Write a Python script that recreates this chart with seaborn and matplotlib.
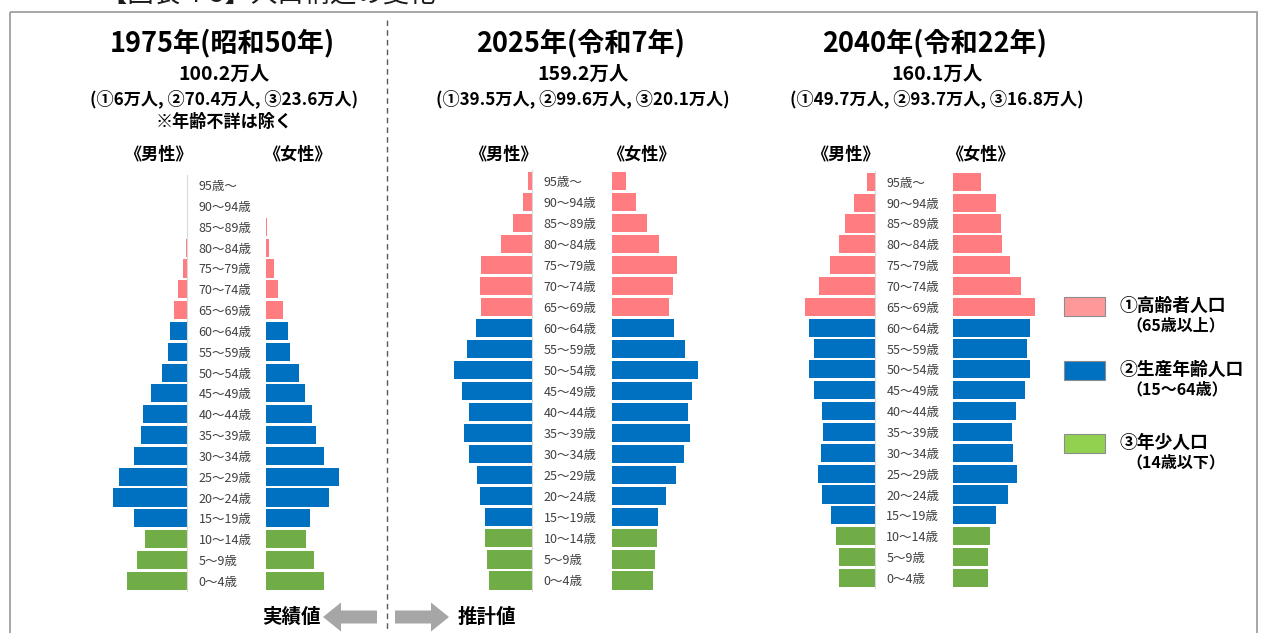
import matplotlib
matplotlib.use("Agg")
import matplotlib.pyplot as plt
import matplotlib.patches as mpatches
import seaborn as sns
import pandas as pd

sns.set_theme(style="white")
plt.rcParams['font.family'] = ['Noto Sans CJK JP', 'DejaVu Sans']

# ---------------- data (千人) ----------------
ages = ["0～4歳", "5～9歳", "10～14歳", "15～19歳", "20～24歳", "25～29歳", "30～34歳",
        "35～39歳", "40～44歳", "45～49歳", "50～54歳", "55～59歳", "60～64歳", "65～69歳",
        "70～74歳", "75～79歳", "80～84歳", "85～89歳", "90～94歳", "95歳～"]

male_1975 = [47.0, 39.2, 32.6, 41.1, 57.8, 52.9, 41.5, 35.9, 34.6, 28.4, 19.8, 14.6, 13.1,
             10.2, 6.9, 3.5, 1.2, 0.5, 0.2, 0.1]
female_1975 = [45.0, 37.2, 31.2, 34.6, 49.4, 57.1, 45.0, 39.3, 36.2, 30.8, 25.6, 19.1, 17.1,
               13.2, 9.3, 6.2, 2.9, 1.0, 0.5, 0.3]
male_2025 = [33.3, 35.4, 37.0, 37.0, 40.5, 43.2, 48.8, 52.7, 49.4, 54.8, 60.5, 50.9, 43.6,
             39.5, 40.5, 40.1, 24.3, 14.7, 7.5, 3.1]
female_2025 = [31.5, 33.3, 35.1, 35.9, 42.1, 49.6, 55.8, 60.7, 58.7, 62.2, 66.9, 56.3, 48.3,
               44.4, 47.5, 50.6, 36.4, 27.4, 18.6, 10.6]
male_2040 = [27.9, 27.9, 30.0, 34.1, 41.3, 44.4, 41.6, 40.5, 40.8, 47.3, 50.9, 47.3, 50.9,
             54.3, 43.4, 35.1, 27.9, 23.0, 16.3, 6.2]
female_2040 = [26.6, 26.6, 28.7, 33.3, 42.4, 49.6, 46.5, 45.5, 48.6, 55.3, 59.4, 56.8, 59.4,
               63.3, 52.7, 44.2, 38.0, 37.0, 33.1, 21.2]

group_names = ["①高齢者人口", "②生産年齢人口", "③年少人口"]
group_sub = ["（65歳以上）", "（15～64歳）", "（14歳以下）"]
bar_colors = {"①高齢者人口": "#FF7C80", "②生産年齢人口": "#0070C0", "③年少人口": "#70AD47"}
legend_colors = ["#FF9999", "#0070C0", "#92D050"]

titles = ["1975年(昭和50年)", "2025年(令和7年)", "2040年(令和22年)"]
totals = ["100.2万人", "159.2万人", "160.1万人"]
breakdowns = ["(①6万人, ②70.4万人, ③23.6万人)",
              "(①39.5万人, ②99.6万人, ③20.1万人)",
              "(①49.7万人, ②93.7万人, ③16.8万人)"]


def group_of(i):
    if i < 3:
        return "③年少人口"
    if i < 13:
        return "②生産年齢人口"
    return "①高齢者人口"


groups = [group_of(i) for i in range(len(ages))]
order_top_down = ages[::-1]

W, H = 1263, 633
DPI = 100
fig = plt.figure(figsize=(W / DPI, H / DPI), dpi=DPI)
fig.patch.set_facecolor("white")

# overlay axes in pixel coordinates for frame / texts
ov = fig.add_axes([0, 0, 1, 1])
ov.set_xlim(0, W)
ov.set_ylim(H, 0)
ov.axis("off")
ov.patch.set_alpha(0)

ov.add_patch(mpatches.Rectangle((10, 12), 1247, 640, fill=False, ec="#A6A6A6", lw=1.4,
                                clip_on=False))
ov.text(268, -5, "【図表 4-5】人口構造の変化", ha="center", va="center", fontsize=19,
        color="#1a1a1a")
ov.plot([387, 387], [20, 633], color="#595959", lw=1, ls=(0, (4, 3)))

# panel geometry (pixels)
panels = [
    dict(m=male_1975, f=female_1975, medge=187.3, fstart=265.7, top=174.8, bot=591.2,
         cx=222, mx=158, fx=297, note=True),
    dict(m=male_2025, f=female_2025, medge=532.3, fstart=612.0, top=170.3, bot=590.9,
         cx=581, mx=503, fx=641, note=False),
    dict(m=male_2040, f=female_2040, medge=875.0, fstart=953.3, top=171.3, bot=588.4,
         cx=935, mx=845, fx=980, note=False),
]

AXW = 100  # px
XMAX = 77.5  # 千人 per AXW px


def to_fig(x0, y0, w, h):
    return [x0 / W, 1 - (y0 + h) / H, w / W, h / H]


for k, p in enumerate(panels):
    h = p["bot"] - p["top"]
    axm = fig.add_axes(to_fig(p["medge"] - AXW, p["top"], AXW, h))
    axf = fig.add_axes(to_fig(p["fstart"], p["top"], AXW, h))
    for ax, vals in ((axm, p["m"]), (axf, p["f"])):
        df = pd.DataFrame({"age": ages, "value": vals, "group": groups})
        sns.barplot(data=df, x="value", y="age", hue="group", hue_order=group_names,
                    palette=bar_colors, order=order_top_down, dodge=False, width=0.87,
                    saturation=1, orient="h", ax=ax, legend=False, linewidth=0)
        ax.set_xlabel("")
        ax.set_ylabel("")
        ax.set_xticks([])
        ax.set_ylim(len(ages) - 0.5, -0.5)
        for s in ax.spines.values():
            s.set_visible(False)
        ax.patch.set_alpha(0)
    axm.set_xlim(XMAX, 0)
    axf.set_xlim(0, XMAX)
    axf.set_yticks([])
    axm.spines["right"].set_visible(True)
    axm.spines["right"].set_color("#D9D9D9")
    axm.spines["right"].set_linewidth(0.8)
    axm.tick_params(axis="y", left=False, right=False, labelleft=False, labelright=True,
                    length=0, pad=8.2, labelsize=9, labelcolor="#404040")

    # headers
    ov.text(p["cx"], 43, titles[k], ha="center", va="center", fontsize=19.5,
            fontweight="bold", color="black")
    ov.text(p["cx"] + 2, 74, totals[k], ha="center", va="center", fontsize=14,
            fontweight="bold", color="black")
    ov.text(p["cx"] + 2, 99, breakdowns[k], ha="center", va="center", fontsize=12.3,
            fontweight="bold", color="black")
    if p["note"]:
        ov.text(p["cx"] + 2, 122, "※年齢不詳は除く", ha="center", va="center", fontsize=12.3,
                fontweight="bold", color="black")
    ov.text(p["mx"], 155, "《男性》", ha="center", va="center", fontsize=12.3,
            fontweight="bold", color="black")
    ov.text(p["fx"], 155, "《女性》", ha="center", va="center", fontsize=12.3,
            fontweight="bold", color="black")

# legend
leg_y = [306, 370, 443]
for i in range(3):
    ov.add_patch(mpatches.Rectangle((1064, leg_y[i] - 9), 41, 19, fc=legend_colors[i],
                                    ec="#8C8C8C", lw=0.8))
    ov.text(1119, leg_y[i], group_names[i], ha="left", va="center", fontsize=12.8,
            fontweight="bold", color="black")
    ov.text(1126, leg_y[i] + 19, group_sub[i], ha="left", va="center", fontsize=11.5,
            fontweight="bold", color="black")

# arrows at bottom
ov.add_patch(mpatches.FancyArrow(377, 617, -54, 0, width=13, head_width=29, head_length=18,
                                 length_includes_head=True, color="#A6A6A6", lw=0))
ov.add_patch(mpatches.FancyArrow(395, 617, 54, 0, width=13, head_width=29, head_length=18,
                                 length_includes_head=True, color="#A6A6A6", lw=0))
ov.text(291, 617, "実績値", ha="center", va="center", fontsize=14, fontweight="bold",
        color="black")
ov.text(487, 617, "推計値", ha="center", va="center", fontsize=14, fontweight="bold",
        color="black")

fig.savefig("out.png", dpi=DPI, facecolor="white")
